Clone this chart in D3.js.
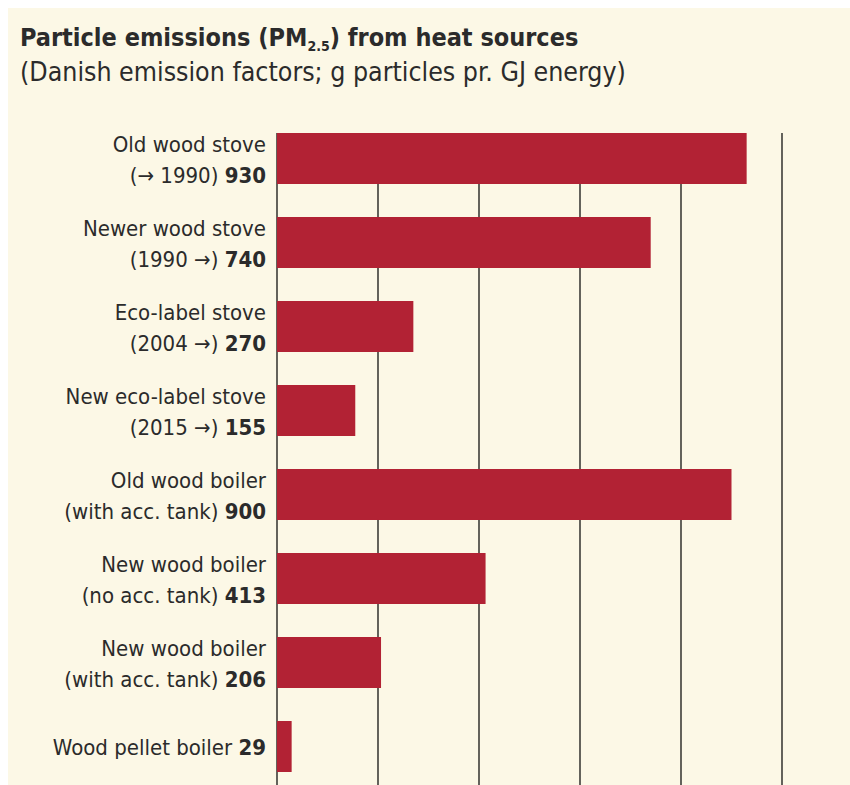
<!DOCTYPE html>
<html><head><meta charset="utf-8">
<script src="https://cdn.jsdelivr.net/npm/d3@7/dist/d3.min.js"></script>
<style>
html,body{margin:0;padding:0;background:#fff;}
svg{display:block;}
text{font-family:"DejaVu Sans Condensed","DejaVu Sans",sans-serif;fill:#2b2b2b;}
</style></head>
<body>
<script>
const categories = ["oldStove","newerStove","ecoStove","newEcoStove","oldBoiler","newBoilerNoTank","newBoilerTank","pellet"];
const labelLine1 = ["Old wood stove","Newer wood stove","Eco-label stove","New eco-label stove","Old wood boiler","New wood boiler","New wood boiler",""];
const labelLine2 = ["(\u2192 1990)","(1990 \u2192)","(2004 \u2192)","(2015 \u2192)","(with acc. tank)","(no acc. tank)","(with acc. tank)","Wood pellet boiler"];
const values = [930,740,270,155,900,413,206,29];
const xTicks = [0,200,400,600,800,1000];

const W = 850, H = 785;
const svg = d3.select("body").append("svg").attr("width",W).attr("height",H);
svg.append("rect").attr("x",8).attr("y",8).attr("width",W-8).attr("height",H-8).attr("fill","#fcf8e6");

svg.append("text").attr("x",20).attr("y",46).attr("font-size",25).attr("font-weight","bold")
  .call(t=>{
    t.append("tspan").text("Particle emissions (PM");
    t.append("tspan").attr("font-size",14).attr("dy",5).text("2.5");
    t.append("tspan").attr("dy",-5).text(") from heat sources");
  });
svg.append("text").attr("x",20).attr("y",81).attr("font-size",26.5).text("(Danish emission factors; g particles pr. GJ energy)");

const x = d3.scaleLinear().domain([0,1000]).range([277,782]);
const y = d3.scaleBand().domain(categories).range([116.5,788.5]).paddingInner(0.393).paddingOuter(0.1965);

svg.append("g").selectAll("line").data(xTicks).join("line")
  .attr("x1",d=>x(d)).attr("x2",d=>x(d)).attr("y1",y(categories[0])).attr("y2",H)
  .attr("stroke","#111").attr("stroke-width",1.3);

svg.append("g").selectAll("rect").data(values).join("rect")
  .attr("x",x(0)).attr("y",(d,i)=>y(categories[i]))
  .attr("width",d=>x(d)-x(0)).attr("height",y.bandwidth())
  .attr("fill","#b22234");

const lab = svg.append("g").selectAll("g").data(values).join("g");
lab.each(function(d,i){
  const g = d3.select(this);
  const top = y(categories[i]), bw = y.bandwidth();
  if(labelLine1[i]){
    g.append("text").attr("x",266).attr("y",top+19).attr("text-anchor","end").attr("font-size",22).text(labelLine1[i]);
    const t2 = g.append("text").attr("x",266).attr("y",top+bw-1).attr("text-anchor","end").attr("font-size",22);
    t2.append("tspan").text(labelLine2[i]+" ");
    t2.append("tspan").attr("font-weight","bold").text(d);
  } else {
    const t2 = g.append("text").attr("x",266).attr("y",top+bw/2+8).attr("text-anchor","end").attr("font-size",22);
    t2.append("tspan").text(labelLine2[i]+" ");
    t2.append("tspan").attr("font-weight","bold").text(d);
  }
});
</script>
</body></html>
